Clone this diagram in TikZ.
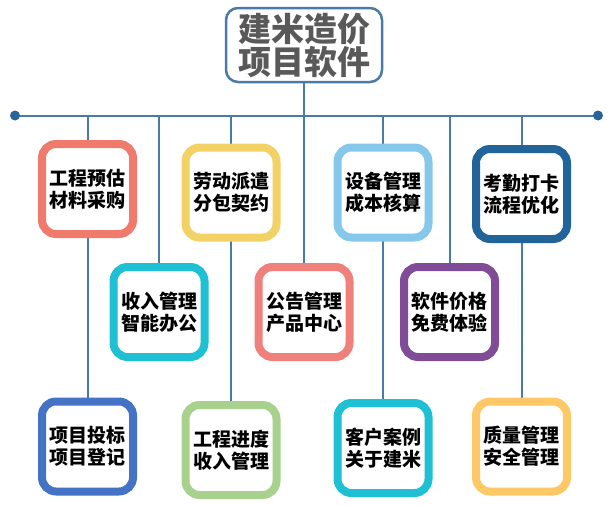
\documentclass[tikz,border=0pt]{standalone}
\usepackage{fontspec}
\newfontfamily\cjk{Noto Sans CJK SC}
\usetikzlibrary{positioning, backgrounds}
\definecolor{busblue}{HTML}{4A7BA6}
\definecolor{dotblue}{HTML}{2A6496}
\definecolor{titlegray}{HTML}{595959}
\definecolor{boxsalmon}{HTML}{F07B6C}
\definecolor{boxyellow}{HTML}{F2D264}
\definecolor{boxsky}{HTML}{85C8EA}
\definecolor{boxnavy}{HTML}{206499}
\definecolor{boxcyan}{HTML}{1FC0D3}
\definecolor{boxpink}{HTML}{F0807B}
\definecolor{boxpurple}{HTML}{814C97}
\definecolor{boxblue}{HTML}{4472C4}
\definecolor{boxgreen}{HTML}{A9D18E}
\definecolor{boxorange}{HTML}{FFC866}

\begin{document}
\begin{tikzpicture}[x=1pt, y=-1pt,
    box/.style={draw=#1, line width=8pt, rounded corners=14pt, fill=white,
        minimum width=91pt, minimum height=90pt, inner sep=0pt, align=center,
        font=\cjk\bfseries\fontsize{19}{22}\selectfont},
    link/.style={draw=busblue, line width=2pt}]
    \useasboundingbox (0,0) rectangle (611,506);

    % Title
    \node[draw=busblue, line width=2.5pt, rounded corners=12pt, fill=white,
        minimum width=156pt, minimum height=74pt, inner sep=0pt, align=center,
        text=titlegray, font=\cjk\bfseries\fontsize{33}{33}\selectfont]
        (title) at (304, 45) {建米造价\\项目软件};

    % Bus
    \coordinate (busL) at (15, 115.5);
    \coordinate (busR) at (598, 115.5);

    % Top row
    \node[box=boxsalmon] (cost) at (87.5, 189) {工程预估\\材料采购};
    \node[box=boxyellow] (labor) at (231, 192.5) {劳动派遣\\分包契约};
    \node[box=boxsky] (equip) at (383, 192.5) {设备管理\\成本核算};
    \node[box=boxnavy] (attend) at (521.5, 194) {考勤打卡\\流程优化};

    % Middle row
    \node[box=boxcyan] (income) at (159, 312) {收入管理\\智能办公};
    \node[box=boxpink] (notice) at (304, 312) {公告管理\\产品中心};
    \node[box=boxpurple] (price) at (449.5, 312) {软件价格\\免费体验};

    % Bottom row
    \node[box=boxblue] (bid) at (87.5, 446.5) {项目投标\\项目登记};
    \node[box=boxgreen] (progress) at (231, 450) {工程进度\\收入管理};
    \node[box=boxcyan] (client) at (383, 448) {客户案例\\关于建米};
    \node[box=boxorange] (quality) at (521.5, 446.5) {质量管理\\安全管理};

    % Connections behind the boxes
    \begin{scope}[on background layer]
        \draw[link] (busL) -- (busR);
        \draw[link] (title.south) -- (title |- busL);
        \foreach \top/\bot in {cost/bid, labor/progress, equip/client, attend/quality} {
            \draw[link] (\top |- busL) -- (\bot.north);
        }
        \foreach \mid in {income, notice, price} {
            \draw[link] (\mid |- busL) -- (\mid.north);
        }
    \end{scope}
    \fill[dotblue] (busL) circle (5pt);
    \fill[dotblue] (busR) circle (5pt);
\end{tikzpicture}
\end{document}
